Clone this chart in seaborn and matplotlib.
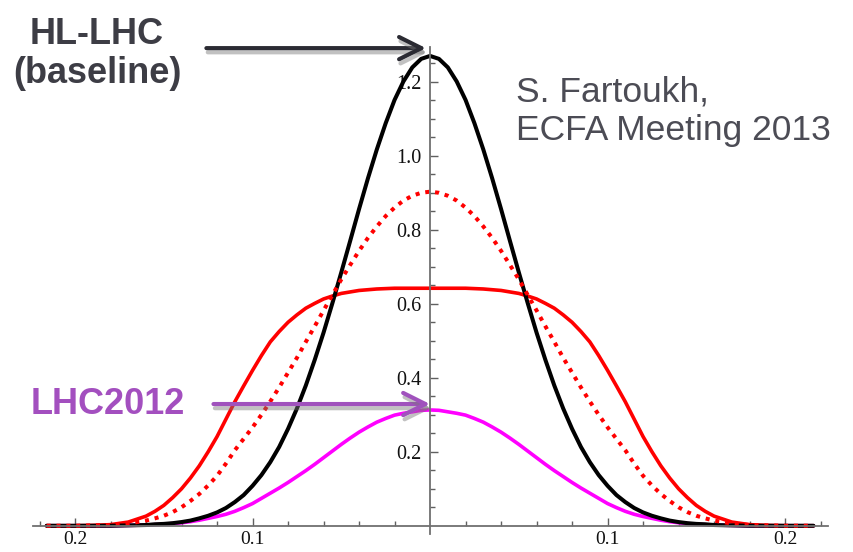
import matplotlib
matplotlib.use("Agg")
import matplotlib.pyplot as plt
import matplotlib.patheffects as pe
from matplotlib.ticker import FixedLocator
import pandas as pd
import seaborn as sns

# ---- data ----
x_vals = [-0.216, -0.21, -0.20, -0.19, -0.18, -0.17,
          -0.16, -0.155, -0.15, -0.145, -0.14, -0.135, -0.13, -0.125, -0.12, -0.115,
          -0.11, -0.105, -0.10, -0.095, -0.09, -0.085, -0.08, -0.075, -0.07, -0.065,
          -0.06, -0.055, -0.05, -0.045, -0.04, -0.035, -0.03, -0.025, -0.02, -0.015,
          -0.01, -0.005,
          0.0,
          0.005, 0.01, 0.015, 0.02, 0.025, 0.03, 0.035, 0.04, 0.045, 0.05, 0.055,
          0.06, 0.065, 0.07, 0.075, 0.08, 0.085, 0.09, 0.095, 0.10, 0.105, 0.11,
          0.115, 0.12, 0.125, 0.13, 0.135, 0.14, 0.145, 0.15, 0.155, 0.16,
          0.17, 0.18, 0.19, 0.20, 0.21, 0.216]

hl_lhc_baseline = [0.0, 0.0, 0.0, 0.0, 0.0, 0.001,
                   0.002, 0.004, 0.005, 0.007, 0.010, 0.014, 0.020, 0.027, 0.036, 0.048,
                   0.064, 0.083, 0.108, 0.137, 0.172, 0.213, 0.262, 0.317, 0.379, 0.448,
                   0.522, 0.602, 0.685, 0.770, 0.856, 0.939, 1.017, 1.088, 1.151, 1.201,
                   1.239, 1.262,
                   1.270,
                   1.262, 1.239, 1.201, 1.151, 1.088, 1.017, 0.939, 0.856, 0.770, 0.685, 0.602,
                   0.522, 0.448, 0.379, 0.317, 0.262, 0.213, 0.172, 0.137, 0.108, 0.083, 0.064,
                   0.048, 0.036, 0.027, 0.020, 0.014, 0.010, 0.007, 0.005, 0.004, 0.002,
                   0.001, 0.0, 0.0, 0.0, 0.0, 0.0]

flat_solid = [0.0, 0.0, 0.0, 0.001, 0.003, 0.010,
              0.026, 0.039, 0.055, 0.076, 0.100, 0.129, 0.162, 0.200, 0.241, 0.288,
              0.335, 0.378, 0.420, 0.460, 0.497, 0.525, 0.550, 0.570, 0.588, 0.601,
              0.613, 0.621, 0.628, 0.632, 0.636, 0.638, 0.640, 0.641, 0.642, 0.642,
              0.642, 0.642,
              0.642,
              0.642, 0.642, 0.642, 0.642, 0.641, 0.640, 0.638, 0.636, 0.632, 0.628, 0.621,
              0.613, 0.601, 0.588, 0.570, 0.550, 0.525, 0.497, 0.460, 0.420, 0.378, 0.335,
              0.288, 0.241, 0.200, 0.162, 0.129, 0.100, 0.076, 0.055, 0.039, 0.026,
              0.010, 0.003, 0.001, 0.0, 0.0, 0.0]

dotted_option = [0.0, 0.0, 0.0, 0.001, 0.002, 0.006,
                 0.014, 0.020, 0.027, 0.037, 0.050, 0.067, 0.086, 0.109, 0.135, 0.168,
                 0.204, 0.235, 0.266, 0.300, 0.336, 0.374, 0.414, 0.454, 0.497, 0.539,
                 0.582, 0.624, 0.666, 0.705, 0.743, 0.778, 0.809, 0.837, 0.860, 0.879,
                 0.892, 0.900,
                 0.903,
                 0.900, 0.892, 0.879, 0.860, 0.837, 0.809, 0.778, 0.743, 0.705, 0.666, 0.624,
                 0.582, 0.539, 0.497, 0.454, 0.414, 0.374, 0.336, 0.300, 0.266, 0.235, 0.204,
                 0.168, 0.135, 0.109, 0.086, 0.067, 0.050, 0.037, 0.027, 0.020, 0.014,
                 0.006, 0.002, 0.001, 0.0, 0.0, 0.0]

lhc2012 = [0.0, 0.0, 0.0, 0.0, 0.0, 0.001,
           0.002, 0.003, 0.004, 0.006, 0.008, 0.011, 0.015, 0.020, 0.025, 0.031,
           0.039, 0.049, 0.060, 0.074, 0.088, 0.102, 0.117, 0.133, 0.149, 0.166,
           0.184, 0.202, 0.220, 0.237, 0.253, 0.267, 0.280, 0.290, 0.299, 0.304,
           0.308, 0.312,
           0.313,
           0.312, 0.308, 0.304, 0.299, 0.290, 0.280, 0.267, 0.253, 0.237, 0.220, 0.202,
           0.184, 0.166, 0.149, 0.133, 0.117, 0.102, 0.088, 0.074, 0.060, 0.049, 0.039,
           0.031, 0.025, 0.020, 0.015, 0.011, 0.008, 0.006, 0.004, 0.003, 0.002,
           0.001, 0.0, 0.0, 0.0, 0.0, 0.0]

x_major = [-0.2, -0.1, 0.1, 0.2]
x_major_labels = ["0.2", "0.1", "0.1", "0.2"]
x_minor = [-0.22, -0.18, -0.16, -0.14, -0.12, -0.08, -0.06, -0.04, -0.02,
           0.02, 0.04, 0.06, 0.08, 0.12, 0.14, 0.16, 0.18, 0.22]
y_major = [0.2, 0.4, 0.6, 0.8, 1.0, 1.2]
y_major_labels = ["0.2", "0.4", "0.6", "0.8", "1.0", "1.2"]
y_minor = [0.05, 0.10, 0.15, 0.25, 0.30, 0.35, 0.45, 0.50, 0.55, 0.65, 0.70, 0.75,
           0.85, 0.90, 0.95, 1.05, 1.10, 1.15, 1.25]

sns.set_theme(style="white")
plt.rcParams["font.family"] = ["Liberation Sans", "DejaVu Sans"]

df = pd.DataFrame({"x": x_vals, "black": hl_lhc_baseline, "red": flat_solid,
                   "dotted": dotted_option, "magenta": lhc2012})

fig = plt.figure(figsize=(8.54, 5.52), dpi=100)
ax = fig.add_axes([0.0386, 0.0328, 0.931, 0.882])

sns.lineplot(data=df, x="x", y="magenta", color="#FF00FF", lw=2.6, ax=ax,
             estimator=None, sort=False)
sns.lineplot(data=df, x="x", y="red", color="#FF0000", lw=2.6, ax=ax,
             estimator=None, sort=False)
sns.lineplot(data=df, x="x", y="black", color="#000000", lw=2.9, ax=ax,
             estimator=None, sort=False)
sns.lineplot(data=df, x="x", y="dotted", color="#FF0000", lw=2.9, ax=ax,
             estimator=None, sort=False, linestyle=(0, (1.0, 1.45)),
             dash_capstyle="butt")

ax.set_xlim(-0.2237, 0.2242)
ax.set_ylim(-0.022, 1.294)
ax.set_xlabel("")
ax.set_ylabel("")

for s in ["top", "right"]:
    ax.spines[s].set_visible(False)
ax.spines["left"].set_position(("data", 0))
ax.spines["bottom"].set_position(("data", 0))
for s in ["left", "bottom"]:
    ax.spines[s].set_color("#707070")
    ax.spines[s].set_linewidth(1.3)

ax.xaxis.set_major_locator(FixedLocator(x_major))
ax.xaxis.set_minor_locator(FixedLocator(x_minor))
ax.set_xticklabels(x_major_labels)
ax.yaxis.set_major_locator(FixedLocator(y_major))
ax.yaxis.set_minor_locator(FixedLocator(y_minor))
ax.set_yticklabels(y_major_labels)

ax.tick_params(axis="x", which="major", direction="in", length=6, width=1,
               color="#606060", pad=3.5, labelsize=14, bottom=True)
ax.tick_params(axis="x", which="minor", direction="in", length=3.3, width=1,
               color="#606060", bottom=True)
ax.tick_params(axis="y", which="major", direction="in", length=6, width=1,
               color="#606060", pad=6, labelsize=14.5, left=True)
ax.tick_params(axis="y", which="minor", direction="in", length=3.6, width=1,
               color="#606060", left=True)
for lab in ax.get_xticklabels() + ax.get_yticklabels():
    lab.set_family(["Liberation Serif", "DejaVu Serif"])
    lab.set_color("#111111")

shadow = [pe.SimpleLineShadow(offset=(1, -3), shadow_color="#777777", alpha=0.45),
          pe.Normal()]
ax.annotate("", xy=(-0.0023, 1.291), xytext=(-0.126, 1.291),
            arrowprops=dict(arrowstyle="->,head_length=0.8,head_width=0.4",
                            color="#2b2b33", lw=3.0, mutation_scale=20,
                            shrinkA=0, shrinkB=0, path_effects=shadow),
            annotation_clip=False)
ax.annotate("", xy=(0.0, 0.329), xytext=(-0.122, 0.329),
            arrowprops=dict(arrowstyle="->,head_length=0.8,head_width=0.4",
                            color="#A052BD", lw=3.0, mutation_scale=20,
                            shrinkA=0, shrinkB=0, path_effects=shadow),
            annotation_clip=False)

W, H = 854, 552
fig.text(97 / W, 1 - 54 / H, "HL-LHC\n(baseline)", ha="center", va="center",
         fontsize=26, fontweight="bold", color="#3d3d45", linespacing=1.15)
fig.text(108 / W, 1 - 405 / H, "LHC2012", ha="center", va="center",
         fontsize=26, fontweight="bold", color="#A34FBF")
fig.text(516 / W, 1 - 111 / H, "S. Fartoukh,\nECFA Meeting 2013", ha="left",
         va="center", fontsize=25.5, color="#4c4c55", linespacing=1.2)

fig.savefig("out.png", dpi=100)
